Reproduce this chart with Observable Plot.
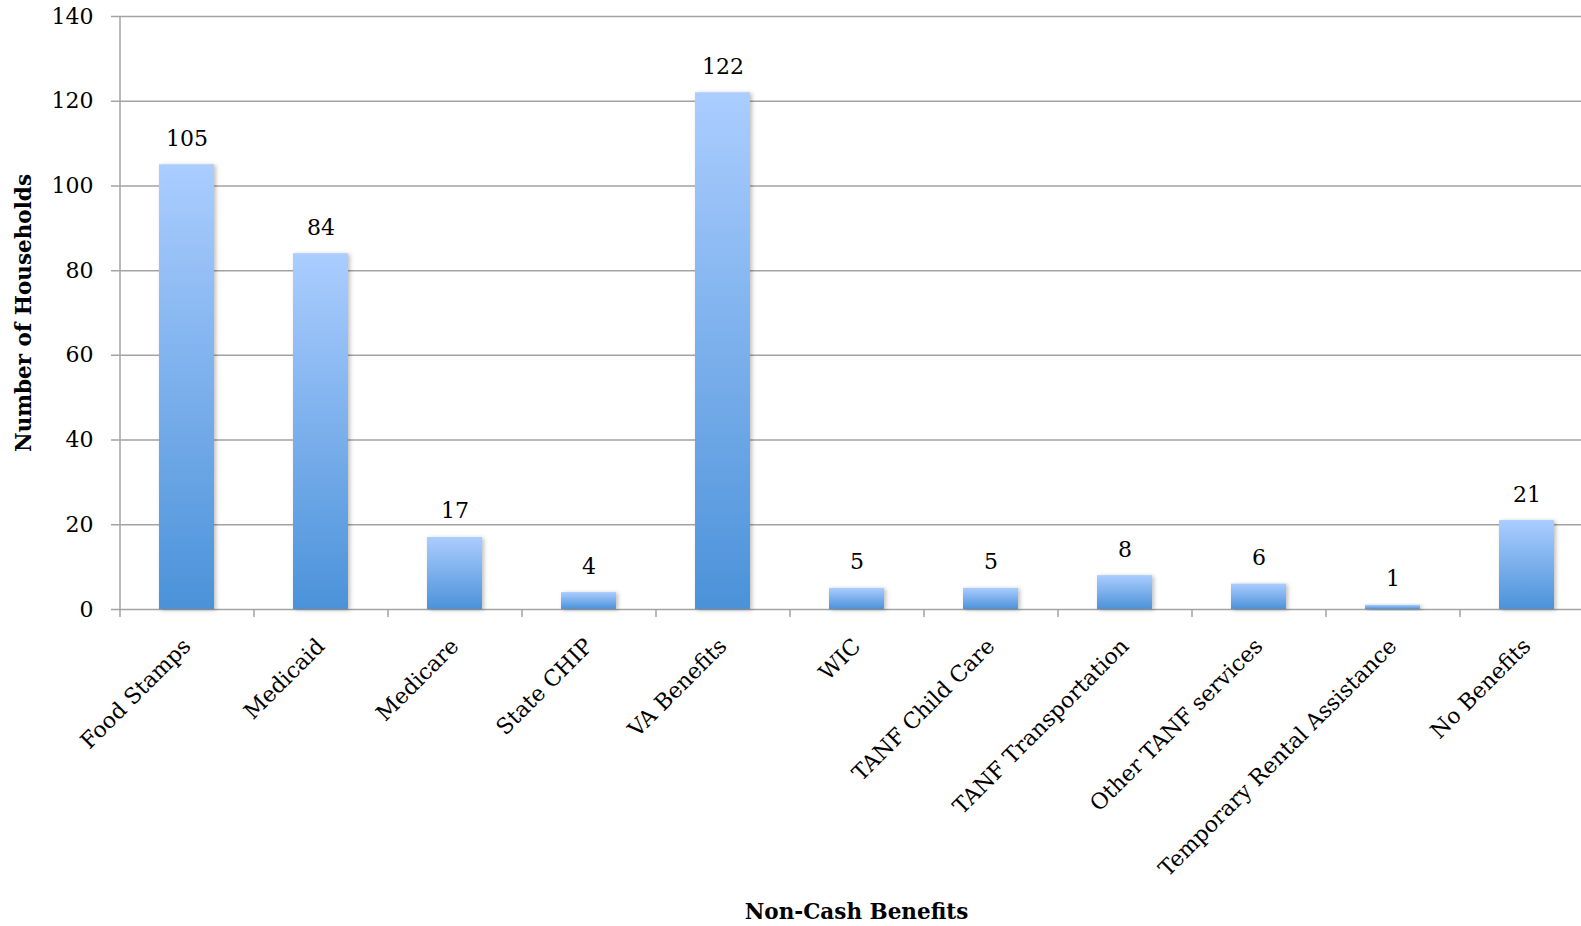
<!DOCTYPE html>
<html><head><meta charset="utf-8">
<script src="https://cdn.jsdelivr.net/npm/d3@7"></script>
<script src="https://cdn.jsdelivr.net/npm/@observablehq/plot@0.6"></script>
<style>body{margin:0;background:#fff} svg{display:block}</style>
</head><body><div id="chart"></div>
<script>
const categories = ["Food Stamps","Medicaid","Medicare","State CHIP","VA Benefits","WIC","TANF Child Care","TANF Transportation","Other TANF services","Temporary Rental Assistance","No Benefits"];
const values = [105, 84, 17, 4, 122, 5, 5, 8, 6, 1, 21];
const yTicks = [0, 20, 40, 60, 80, 100, 120, 140];
const xTitle = "Non-Cash Benefits";
const yTitle = "Number of Households";

const data = categories.map((c, i) => ({category: c, value: values[i]}));
const W = 1581, H = 926, mL = 119, mR = -12, mT = 16, mB = 317;
const step = (W - mR - mL) / categories.length;
const grey = "#a3a3a3";

const defs = () => {
  const g = d3.create("svg:defs");
  const lg = g.append("linearGradient").attr("id", "barGrad").attr("x1", 0).attr("y1", 0).attr("x2", 0).attr("y2", 1);
  lg.append("stop").attr("offset", "0%").attr("stop-color", "#abcdff");
  lg.append("stop").attr("offset", "100%").attr("stop-color", "#4b92d9");
  const f = g.append("filter").attr("id", "barShadow").attr("x", "-20%").attr("y", "-20%").attr("width", "150%").attr("height", "150%");
  f.append("feDropShadow").attr("dx", 2).attr("dy", 1).attr("stdDeviation", 2).attr("flood-color", "#000").attr("flood-opacity", 0.25);
  return g.node();
};

const chart = Plot.plot({
  width: W, height: H, marginLeft: mL, marginRight: mR, marginTop: mT, marginBottom: mB,
  style: {fontFamily: "'DejaVu Serif', serif", fontSize: "22px", color: "#000", background: "#fff", overflow: "hidden"},
  x: {domain: categories, paddingInner: 0.59, paddingOuter: 0.295, axis: null},
  y: {domain: [0, 140], axis: null},
  marks: [
    defs,
    Plot.gridY(yTicks, {stroke: grey, strokeOpacity: 1, strokeWidth: 1.5, insetLeft: -8}),
    Plot.axisX({tickSize: 8, tickFormat: () => "", stroke: grey, strokeWidth: 1.5, dx: -step / 2, label: null}),
    Plot.ruleX([categories[0]], {x: d => d, dx: -step / 2, stroke: grey, strokeWidth: 1.5}),
    Plot.axisY(yTicks, {tickSize: 0, tickPadding: 26, fill: "#000", fontSize: 22, label: null}),
    Plot.barY(data, {x: "category", y: "value", fill: "url(#barGrad)"}),
    Plot.text(data, {x: "category", y: "value", text: d => String(d.value), dy: -19, lineAnchor: "bottom", fill: "#000", fontSize: 22}),
    Plot.text(categories, {x: d => d, frameAnchor: "bottom", rotate: -45, textAnchor: "end", lineAnchor: "middle", dy: 33, fill: "#000", fontSize: 22}),
    Plot.text([xTitle], {frameAnchor: "bottom", dy: 303, lineAnchor: "middle", textAnchor: "middle", fontWeight: "bold", fontSize: 21.5, fill: "#000"}),
    Plot.text([yTitle], {frameAnchor: "left", rotate: -90, dx: -89, textAnchor: "middle", lineAnchor: "bottom", fontWeight: "bold", fontSize: 21.5, fill: "#000"})
  ]
});
d3.select(chart).selectAll("g[aria-label='bar'] rect").attr("filter", "url(#barShadow)");
document.getElementById("chart").appendChild(chart);
</script>
</body></html>
